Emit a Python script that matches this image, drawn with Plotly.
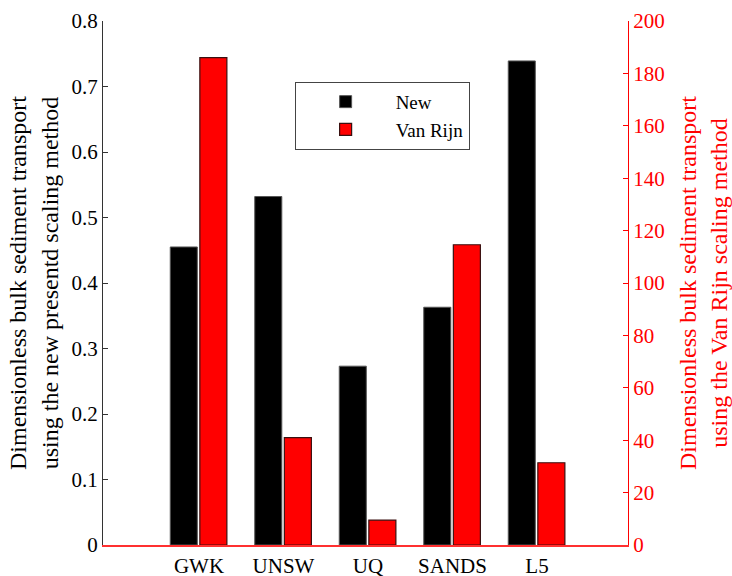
import plotly.graph_objects as go

categories = ["GWK", "UNSW", "UQ", "SANDS", "L5"]
new_values = [0.455, 0.532, 0.273, 0.363, 0.739]
vanrijn_values = [186.0, 41.0, 9.5, 114.6, 31.4]
left_ticks = [0, 0.1, 0.2, 0.3, 0.4, 0.5, 0.6, 0.7, 0.8]
right_ticks = [0, 20, 40, 60, 80, 100, 120, 140, 160, 180, 200]

xpos = list(range(len(categories)))
FONT = "Liberation Serif"

fig = go.Figure()
fig.add_trace(go.Bar(
    x=xpos, y=new_values, name="New", yaxis="y", xaxis="x",
    width=0.32, offset=-0.34,
    marker=dict(color="black", line=dict(color="#555555", width=1)),
))
fig.add_trace(go.Bar(
    x=xpos, y=vanrijn_values, name="Van Rijn", yaxis="y2", xaxis="x",
    width=0.32, offset=0.01,
    marker=dict(color="#ff0000", line=dict(color="#3a1010", width=1.2)),
))

xr = [-1.136, 5.077]
fig.update_layout(
    width=732, height=576,
    margin=dict(l=103, r=104, t=21, b=31, autoexpand=False),
    paper_bgcolor="white", plot_bgcolor="white",
    barmode="overlay",
    font=dict(family=FONT, size=21, color="black"),
    showlegend=True,
    legend=dict(
        x=0.365, y=0.884, xanchor="left", yanchor="top",
        bordercolor="#444444", borderwidth=1, bgcolor="white",
        font=dict(family=FONT, size=19),
        itemwidth=90, tracegroupgap=0,
    ),
    xaxis=dict(
        range=xr, tickvals=xpos, ticktext=categories,
        showline=True, linecolor="#ff3030", linewidth=1.5,
        ticks="", showgrid=False, zeroline=False,
        automargin=False, ticklabelstandoff=1,
        tickfont=dict(family=FONT, size=21, color="black"),
    ),
    xaxis2=dict(
        overlaying="x", side="top", range=xr, tickvals=xpos,
        showticklabels=False, ticks="inside", ticklen=5, tickcolor="#333333",
        showline=True, linecolor="#333333", linewidth=1,
        showgrid=False, zeroline=False, automargin=False,
    ),
    yaxis=dict(
        range=[0, 0.8], tickvals=left_ticks,
        ticktext=["0" if v == 0 else f"{v:.1f}" for v in left_ticks],
        ticks="inside", ticklen=5, tickcolor="#333333",
        showline=True, linecolor="#333333", linewidth=1,
        showgrid=False, zeroline=False, automargin=False,
        tickfont=dict(family=FONT, size=21, color="black"),
        title=dict(text="Dimensionless bulk sediment transport<br>using the new presentd scaling method",
                   font=dict(family=FONT, size=24, color="black"), standoff=6),
    ),
    yaxis2=dict(
        overlaying="y", side="right", anchor="x",
        range=[0, 200], tickvals=right_ticks,
        ticks="inside", ticklen=5, tickcolor="#ff0000",
        showline=True, linecolor="#ff0000", linewidth=1,
        showgrid=False, zeroline=False, automargin=False,
        tickfont=dict(family=FONT, size=21, color="#ff0000"),
        title=dict(text="Dimensionless bulk sediment transport<br>using the Van Rijn scaling method",
                   font=dict(family=FONT, size=24, color="#ff0000"), standoff=22),
    ),
)

fig.write_html("out.html")
